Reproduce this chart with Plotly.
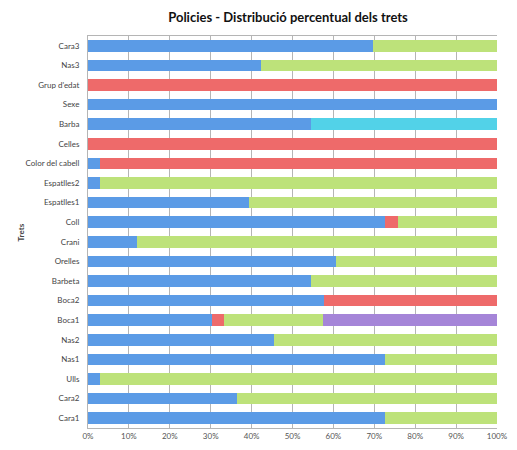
import plotly.graph_objects as go

# categories listed bottom to top (plotly draws the first one at the bottom)
trets = ["Cara1", "Cara2", "Ulls", "Nas1", "Nas2", "Boca1", "Boca2", "Barbeta",
         "Orelles", "Crani", "Coll", "Espatlles1", "Espatlles2", "Color del cabell",
         "Celles", "Barba", "Sexe", "Grup d'edat", "Nas3", "Cara3"]

# percentage per trait value
valor1 = [72.7, 36.4, 3.0, 72.7, 45.5, 30.3, 57.6, 54.5, 60.6, 12.1, 72.7, 39.4, 3.0, 3.0, 0, 54.5, 100, 0, 42.4, 69.7]
valor2 = [0, 0, 0, 0, 0, 3.0, 42.4, 0, 0, 0, 3.0, 0, 0, 97.0, 100, 0, 0, 100, 0, 0]
valor3 = [27.3, 63.6, 97.0, 27.3, 54.5, 24.2, 0, 45.5, 39.4, 87.9, 24.3, 60.6, 97.0, 0, 0, 0, 0, 0, 57.6, 30.3]
valor4 = [0, 0, 0, 0, 0, 0, 0, 0, 0, 0, 0, 0, 0, 0, 0, 45.5, 0, 0, 0, 0]
valor5 = [0, 0, 0, 0, 0, 42.5, 0, 0, 0, 0, 0, 0, 0, 0, 0, 0, 0, 0, 0, 0]

series = [
    ("1", valor1, "#5b9be6"),
    ("2", valor2, "#ee6a6a"),
    ("3", valor3, "#bde27a"),
    ("4", valor4, "#52d2e8"),
    ("5", valor5, "#a585d8"),
]

fig = go.Figure()
for name, vals, color in series:
    fig.add_trace(go.Bar(
        y=trets,
        x=vals,
        name=name,
        orientation="h",
        marker=dict(color=color, line=dict(width=0)),
    ))

# the page adds an 8px body margin, so keep the figure small enough to fit the window
fig.update_layout(
    barmode="stack",
    bargap=0.4,
    width=500,
    height=434,
    margin=dict(l=80, r=11, t=28, b=14),
    plot_bgcolor="white",
    paper_bgcolor="white",
    showlegend=False,
    font=dict(family="Lato", size=8, color="#444444"),
    title=dict(
        text="<b>Policies - Distribució percentual dels trets</b>",
        x=0.56, xanchor="center", y=0.978, yanchor="middle",
        font=dict(family="Lato", size=13, color="#111111"),
    ),
    xaxis=dict(
        range=[0, 100],
        tickvals=[0, 10, 20, 30, 40, 50, 60, 70, 80, 90, 100],
        ticktext=["0%", "10%", "20%", "30%", "40%", "50%", "60%", "70%", "80%", "90%", "100%"],
        showgrid=True,
        gridcolor="#b5b5b5",
        gridwidth=1,
        zeroline=False,
        showline=True,
        linecolor="#b5b5b5",
        mirror=True,
        automargin=False,
        tickfont=dict(size=8, color="#555555"),
        fixedrange=True,
    ),
    yaxis=dict(
        categoryorder="array",
        categoryarray=trets,
        showgrid=False,
        showline=True,
        linecolor="#b5b5b5",
        ticks="",
        ticklabelstandoff=6,
        automargin=False,
        tickfont=dict(size=8, color="#444444"),
    ),
    annotations=[dict(
        text="<b>Trets</b>", textangle=-90,
        xref="paper", yref="paper", x=-0.18, y=0.50,
        showarrow=False, font=dict(size=8, color="#444444"),
    )],
)

fig.write_html("out.html")
